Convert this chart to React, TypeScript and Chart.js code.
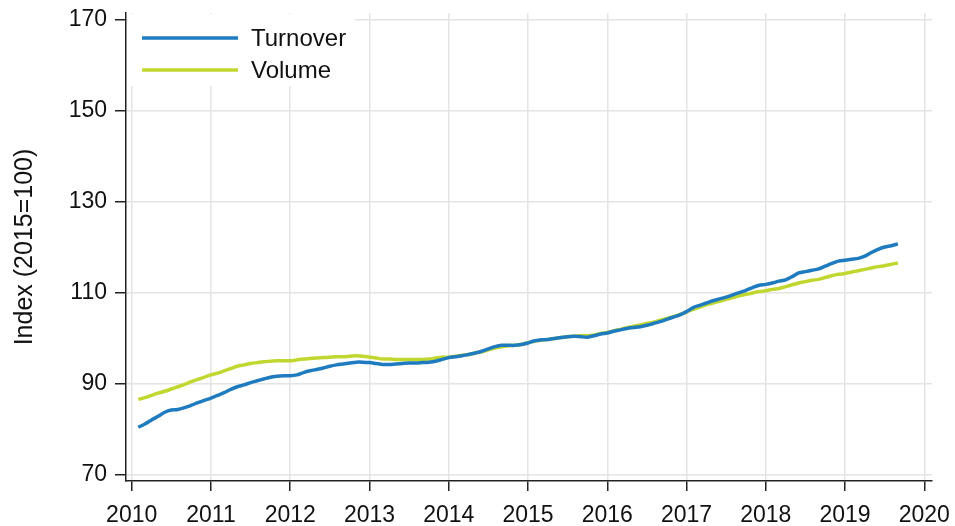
import React, { useEffect, useRef } from "react";
import { Chart, registerables } from "chart.js";

Chart.register(...registerables);

// Monthly index values, Feb 2010 .. Sep 2019
const startYear = 2010;
const startMonth = 2; // February

const turnover2010 = [80.5, 81.2, 82.1, 82.9, 83.8, 84.3, 84.4, 84.8, 85.3, 85.9, 86.4];
const turnover2011 = [86.9, 87.5, 88.1, 88.8, 89.4, 89.8, 90.3, 90.7, 91.1, 91.5, 91.7, 91.8];
const turnover2012 = [91.8, 92.0, 92.5, 92.9, 93.2, 93.5, 93.9, 94.2, 94.4, 94.6, 94.8, 94.8];
const turnover2013 = [94.7, 94.5, 94.3, 94.3, 94.4, 94.5, 94.6, 94.6, 94.7, 94.8, 95.0, 95.4];
const turnover2014 = [95.8, 96.0, 96.2, 96.5, 96.8, 97.2, 97.7, 98.2, 98.5, 98.5, 98.5, 98.7];
const turnover2015 = [99.0, 99.5, 99.7, 99.8, 100.0, 100.2, 100.4, 100.5, 100.4, 100.3, 100.6, 101.0];
const turnover2016 = [101.2, 101.6, 101.9, 102.2, 102.4, 102.6, 102.9, 103.3, 103.7, 104.2, 104.7, 105.2];
const turnover2017 = [105.9, 106.8, 107.3, 107.8, 108.3, 108.7, 109.1, 109.6, 110.1, 110.6, 111.2, 111.7];
const turnover2018 = [111.9, 112.2, 112.6, 112.9, 113.6, 114.4, 114.7, 115.0, 115.3, 115.9, 116.5, 117.0];
const turnover2019 = [117.2, 117.4, 117.6, 118.1, 118.9, 119.6, 120.1, 120.4, 120.8];

const volume2010 = [86.6, 87.0, 87.5, 88.0, 88.4, 88.9, 89.4, 89.9, 90.5, 91.0, 91.5];
const volume2011 = [92.0, 92.4, 92.9, 93.4, 93.9, 94.2, 94.5, 94.7, 94.9, 95.0, 95.1, 95.1];
const volume2012 = [95.1, 95.3, 95.5, 95.6, 95.7, 95.8, 95.9, 96.0, 96.0, 96.1, 96.2, 96.1];
const volume2013 = [95.9, 95.7, 95.5, 95.5, 95.4, 95.4, 95.4, 95.4, 95.4, 95.5, 95.7, 95.9];
const volume2014 = [95.9, 96.1, 96.3, 96.5, 96.8, 97.1, 97.5, 97.9, 98.2, 98.4, 98.5, 98.7];
const volume2015 = [99.1, 99.4, 99.6, 99.8, 100.0, 100.2, 100.4, 100.5, 100.6, 100.6, 100.8, 101.1];
const volume2016 = [101.3, 101.7, 102.0, 102.4, 102.7, 103.0, 103.3, 103.6, 104.0, 104.4, 104.8, 105.3];
const volume2017 = [105.8, 106.4, 106.9, 107.4, 107.8, 108.2, 108.6, 109.0, 109.4, 109.7, 110.0, 110.3];
const volume2018 = [110.5, 110.8, 111.0, 111.4, 111.8, 112.2, 112.5, 112.8, 113.0, 113.4, 113.8, 114.1];
const volume2019 = [114.3, 114.6, 114.9, 115.2, 115.5, 115.8, 116.0, 116.3, 116.6];

const seriesLabels = ["Turnover", "Volume"];
const seriesColors = ["#1f7bbf", "#c0d730"];

const xTickYears = [2010, 2011, 2012, 2013, 2014, 2015, 2016, 2017, 2018, 2019, 2020];
const yTickValues = [70, 90, 110, 130, 150, 170];
const yAxisTitle = "Index (2015=100)";

const turnover = [
  ...turnover2010, ...turnover2011, ...turnover2012, ...turnover2013, ...turnover2014,
  ...turnover2015, ...turnover2016, ...turnover2017, ...turnover2018, ...turnover2019,
];
const volume = [
  ...volume2010, ...volume2011, ...volume2012, ...volume2013, ...volume2014,
  ...volume2015, ...volume2016, ...volume2017, ...volume2018, ...volume2019,
];

const toPoints = (vals: number[]) =>
  vals.map((v, i) => ({ x: startYear + (startMonth - 1 + i) / 12, y: v }));

const FONT = "'Liberation Sans', Arial, Helvetica, sans-serif";
const TEXT = "#111";

const legendPlugin = {
  id: "insideLegend",
  afterDatasetsDraw(chart: any) {
    const { ctx, chartArea } = chart;
    ctx.save();
    ctx.fillStyle = "#ffffff";
    ctx.fillRect(chartArea.left + 2, chartArea.top + 1, 227, 72);
    chart.data.datasets.forEach((ds: any, i: number) => {
      const y = chartArea.top + 25 + i * 32;
      ctx.strokeStyle = ds.borderColor;
      ctx.lineWidth = 3.5;
      ctx.beginPath();
      ctx.moveTo(chartArea.left + 16, y);
      ctx.lineTo(chartArea.left + 112, y);
      ctx.stroke();
      ctx.fillStyle = TEXT;
      ctx.font = `24px ${FONT}`;
      ctx.textBaseline = "middle";
      ctx.textAlign = "left";
      ctx.fillText(ds.label, chartArea.left + 125, y + 1);
    });
    ctx.restore();
  },
};

export default function App() {
  const ref = useRef<HTMLCanvasElement | null>(null);
  useEffect(() => {
    if (!ref.current) return;
    const chart = new Chart(ref.current, {
      type: "line",
      data: {
        datasets: [
          {
            label: seriesLabels[0],
            data: toPoints(turnover),
            borderColor: seriesColors[0],
            borderWidth: 3.5,
            pointRadius: 0,
            tension: 0.3,
          },
          {
            label: seriesLabels[1],
            data: toPoints(volume),
            borderColor: seriesColors[1],
            borderWidth: 3.5,
            pointRadius: 0,
            tension: 0.3,
          },
        ],
      },
      plugins: [legendPlugin],
      options: {
        animation: false,
        responsive: false,
        layout: { padding: { top: 13, right: 23, left: 0, bottom: 0 } },
        plugins: { legend: { display: false }, tooltip: { enabled: false } },
        scales: {
          x: {
            type: "linear",
            min: 2009.928,
            max: 2020.097,
            afterBuildTicks: (s: any) => {
              s.ticks = xTickYears.map((v) => ({ value: v }));
            },
            afterFit: (s: any) => {
              s.height = 45;
              s.paddingLeft = 0;
              s.paddingRight = 0;
            },
            grid: {
              color: "#e4e4e4",
              lineWidth: 1.5,
              tickColor: "#222",
              tickWidth: 1.5,
              tickLength: 10,
            },
            border: { color: "#222", width: 1.5 },
            ticks: {
              color: TEXT,
              font: { family: FONT, size: 23 },
              padding: 11,
              maxRotation: 0,
              autoSkip: false,
              callback: (v: any) => String(v),
            },
          },
          y: {
            type: "linear",
            min: 68.68,
            max: 171.54,
            afterBuildTicks: (s: any) => {
              s.ticks = yTickValues.map((v) => ({ value: v }));
            },
            afterFit: (s: any) => {
              s.width = 126;
              s.paddingTop = 0;
              s.paddingBottom = 0;
            },
            grid: {
              color: "#e4e4e4",
              lineWidth: 1.5,
              tickColor: "#222",
              tickWidth: 1.5,
              tickLength: 11,
            },
            border: { color: "#222", width: 1.5 },
            ticks: {
              color: TEXT,
              font: { family: FONT, size: 23 },
              padding: 8,
              autoSkip: false,
              callback: (v: any) => String(v),
            },
            title: {
              display: true,
              text: yAxisTitle,
              color: TEXT,
              font: { family: FONT, size: 25 },
              padding: { top: 10, bottom: 0 },
            },
          },
        },
      },
    });
    return () => chart.destroy();
  }, []);
  return (
    <div style={{ position: "fixed", left: 0, top: 0, width: 955, height: 526, background: "#fff" }}>
      <canvas ref={ref} width={955} height={526} />
    </div>
  );
}
